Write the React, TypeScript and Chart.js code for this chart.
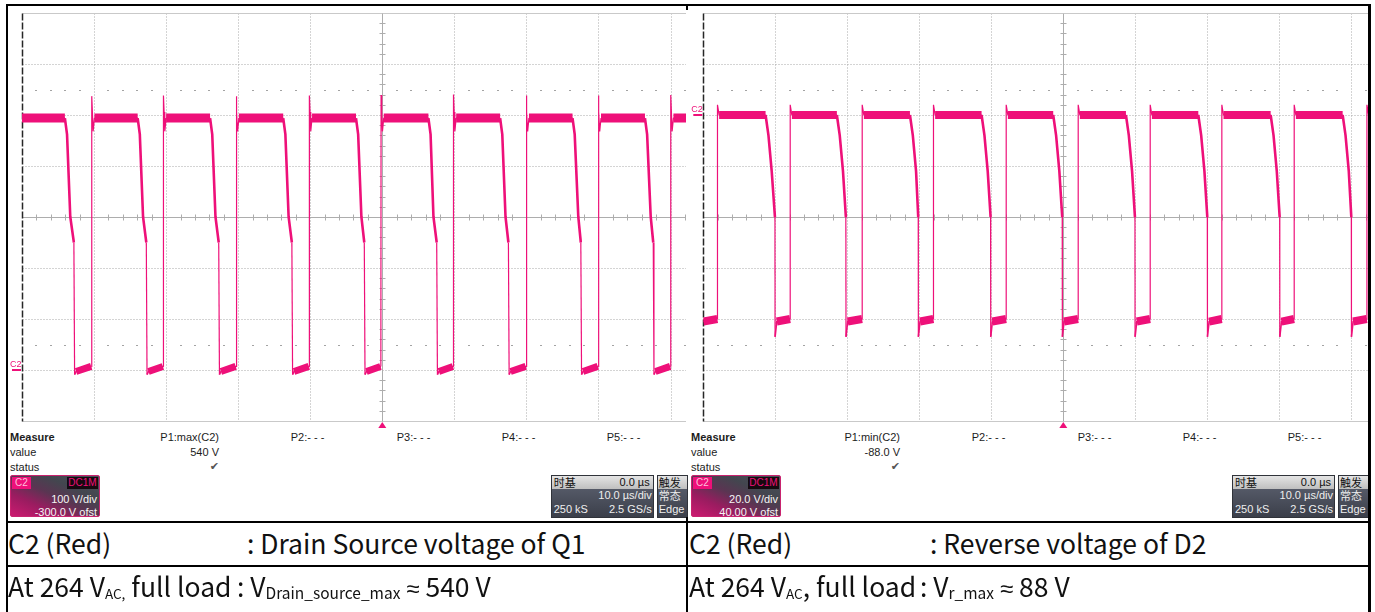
import React, { useEffect, useRef } from "react";
import { Chart, registerables } from "chart.js";

Chart.register(...registerables);

const PINK = "#ee1079";
const SANS = '"Liberation Sans", Arial, sans-serif';
const CJK = '"Noto Sans CJK SC", "Noto Sans", sans-serif';

// ===================== data =====================
// Horizontal: 10.0 µs/div, trigger at 0 µs (both screens)
const TIME_GRID_US = [-50, -40, -30, -20, -10, 0, 10, 20, 30, 40, 50];

// ---- Left screen: C2 = drain-source voltage of Q1 (100 V/div, -300.0 V ofst)
const L_VOLT_GRID = [-100, 0, 100, 200, 300, 400, 500, 600, 700];
const L_DOT_ROWS_V = [550, 50];
const L_RISE_US = [-40.35, -30.4, -20.3, -10.15, -0.2, 9.85, 19.95, 29.95, 40.0];
const L_FALL_US = [-44.05, -33.95, -23.9, -13.75, -3.65, 6.4, 16.35, 26.4, 36.45];
const L_MID_US = [-43.3, -33.2, -23.15, -13.0, -2.9, 7.1, 17.1, 27.2, 37.25];
const L_DROP_US = [-42.7, -32.65, -22.6, -12.45, -2.4, 7.65, 17.6, 27.65, 37.7];
const L_PEAK_V = [537, 538, 537, 538, 539, 540, 538, 538, 539];
const L_HIGH_V = 494;
const L_MID_V = 300;
const L_KNEE_DT = [0.3];
const L_KNEE_V = [462];
const L_TAIL_DT = 0.1;
const L_TAIL_V = 250;
const L_UNDERSHOOT_V = -9;
const L_LOW_START_V = -3;
const L_LOW_END_V = 7;
const L_RING_DT = [0.03, 0.12, 0.22, 0.4];
const L_RING_V = [506, 468];

// ---- Right screen: C2 = reverse voltage of D2 (20.0 V/div, 40.00 V ofst)
const R_VOLT_GRID = [-120, -100, -80, -60, -40, -20, 0, 20, 40];
const R_DOT_ROWS_V = [10, -90];
const R_RISE_US = [-48.05, -37.95, -27.95, -18.05, -7.95, 2.05, 12.05, 22.0, 32.05, 42.15];
const R_FALL_US = [-41.35, -31.45, -21.3, -11.35, -1.4, 8.7, 18.75, 28.8, 38.8];
const R_DROP_US = [-40.05, -30.2, -20.15, -10.1, -0.15, 9.95, 20.0, 30.05, 40.0];
const R_HIGH_V = 0;
const R_OVERSHOOT_V = 4;
const R_LOW_V = -81;
const R_LOW_END_V = -80;
const R_MIN_V = -87;
const R_MID_V = -40;
const R_KNEE_DT = [0.4, 0.85];
const R_KNEE_V = [-8, -22];

// ===================== trace construction =====================
type P = { x: number; y: number | null };

function buildLeft() {
  const pts: P[] = [];
  const kinds: string[] = [];
  const add = (x: number, y: number, k: string) => {
    pts.push({ x, y });
    kinds.push(k);
  };
  const high: P[] = [{ x: -50, y: L_HIGH_V }];
  const low: P[] = [];
  add(-50, L_HIGH_V, "flat");
  for (let i = 0; i < L_FALL_US.length; i++) {
    const f = L_FALL_US[i];
    const d = L_DROP_US[i];
    const r = L_RISE_US[i];
    high.push({ x: f, y: L_HIGH_V }, { x: f, y: null });
    add(f, L_HIGH_V, "slope");
    add(f + L_KNEE_DT[0], L_KNEE_V[0], "slope");
    add(L_MID_US[i], L_MID_V, "slope");
    add(d - L_TAIL_DT, L_TAIL_V, "edge");
    add(d, L_UNDERSHOOT_V, "flat");
    add(d + 0.2, L_LOW_START_V, "flat");
    low.push({ x: d + 0.2, y: L_LOW_START_V }, { x: r - 0.05, y: L_LOW_END_V }, { x: r, y: null });
    add(r, L_LOW_END_V, "edge");
    add(r + L_RING_DT[0], L_PEAK_V[i], "edge");
    add(r + L_RING_DT[1], L_RING_V[0], "edge");
    add(r + L_RING_DT[2], L_RING_V[1], "edge");
    add(r + L_RING_DT[3], L_HIGH_V, "flat");
    high.push({ x: r + L_RING_DT[3], y: L_HIGH_V });
  }
  add(50, L_HIGH_V, "flat");
  high.push({ x: 50, y: L_HIGH_V });
  return { pts, kinds, high, low, highW: 9, lowW: 7 };
}

function buildRight() {
  const pts: P[] = [];
  const kinds: string[] = [];
  const add = (x: number, y: number, k: string) => {
    pts.push({ x, y });
    kinds.push(k);
  };
  const high: P[] = [];
  const low: P[] = [{ x: -50, y: R_LOW_V }];
  add(-50, R_LOW_V, "flat");
  for (let i = 0; i < R_RISE_US.length; i++) {
    const r = R_RISE_US[i];
    low.push({ x: r, y: R_LOW_END_V }, { x: r, y: null });
    add(r, R_LOW_END_V, "edge");
    add(r + 0.02, R_OVERSHOOT_V, "edge");
    add(r + 0.25, R_HIGH_V, "flat");
    high.push({ x: r + 0.25, y: R_HIGH_V });
    if (i < R_FALL_US.length) {
      const f = R_FALL_US[i];
      const d = R_DROP_US[i];
      high.push({ x: f, y: R_HIGH_V }, { x: f, y: null });
      add(f, R_HIGH_V, "slope");
      add(f + R_KNEE_DT[0], R_KNEE_V[0], "slope");
      add(f + R_KNEE_DT[1], R_KNEE_V[1], "slope");
      add(d, R_MID_V, "edge");
      add(d + 0.02, R_MIN_V, "flat");
      add(d + 0.25, R_LOW_V, "flat");
      low.push({ x: d + 0.25, y: R_LOW_V });
    } else {
      add(50, R_HIGH_V, "flat");
      high.push({ x: 50, y: R_HIGH_V });
    }
  }
  return { pts, kinds, high, low, highW: 8, lowW: 8 };
}

// ===================== chart component =====================
type ScopeCfg = {
  boxLeft: number;
  boxWidth: number;
  gridLeft: number;
  gridWidth: number;
  vGrid: number[];
  center: number;
  dotRows: number[];
  build: () => ReturnType<typeof buildLeft>;
};

const BOX_TOP = 6;
const BOX_H = 424;
const CANVAS_W = 760;
const GRID_TOP = 13;
const GRID_H = 408;

function gridPlugin(cfg: ScopeCfg) {
  return {
    id: "scopeGrid",
    beforeDatasetsDraw(chart: any) {
      const { ctx } = chart;
      const xs = chart.scales.x;
      const ys = chart.scales.y;
      const X = (t: number) => Math.round(xs.getPixelForValue(t)) + 0.5;
      const Y = (v: number) => Math.round(ys.getPixelForValue(v)) + 0.5;
      const seg = (x1: number, y1: number, x2: number, y2: number) => {
        ctx.beginPath();
        ctx.moveTo(x1, y1);
        ctx.lineTo(x2, y2);
        ctx.stroke();
      };
      const vg = cfg.vGrid;
      const lastT = TIME_GRID_US.length - 1;
      const lastV = vg.length - 1;
      const top = Y(vg[lastV]);
      const bottom = Y(vg[0]);
      const left = X(TIME_GRID_US[0]);
      const right = X(TIME_GRID_US[lastT]);
      const yc = Y(cfg.center);
      const x0 = X(0);
      ctx.save();
      ctx.lineWidth = 1;
      ctx.strokeStyle = "#a9a9a9";
      ctx.setLineDash([1, 2]);
      TIME_GRID_US.forEach((t, i) => {
        if (i > 0 && i < lastT && t !== 0) seg(X(t), top, X(t), bottom);
      });
      vg.forEach((v, i) => {
        if (i > 0 && i < lastV && v !== cfg.center) seg(left, Y(v), right, Y(v));
      });
      ctx.setLineDash([]);
      ctx.strokeStyle = "#c9c9c9";
      seg(left, top, right, top);
      seg(left, bottom, right, bottom);
      ctx.strokeStyle = "#adadad";
      seg(x0, top, x0, bottom);
      seg(left, yc, right, yc);
      // minor ticks, 5 per division
      const tDiv = TIME_GRID_US[1] - TIME_GRID_US[0];
      const vDiv = vg[1] - vg[0];
      for (let i = 1; i < lastT * 5; i++) {
        if (i % 5 === 0) continue;
        const tx = X(TIME_GRID_US[0] + (i * tDiv) / 5);
        seg(tx, yc - 3, tx, yc + 3);
      }
      for (let i = 1; i < lastV * 5; i++) {
        if (i % 5 === 0) continue;
        const vy = Y(vg[0] + (i * vDiv) / 5);
        seg(x0 - 3, vy, x0 + 3, vy);
      }
      ctx.fillStyle = "#a3a3a3";
      cfg.dotRows.forEach((v) => {
        const vy = Math.round(ys.getPixelForValue(v));
        for (let i = 1; i < lastT * 5; i++) {
          if (i % 5 === 0) continue;
          const tx = Math.round(xs.getPixelForValue(TIME_GRID_US[0] + (i * tDiv) / 5));
          ctx.fillRect(tx - 1, vy, 2, 1);
        }
      });
      ctx.strokeStyle = "#262626";
      ctx.lineWidth = 1.5;
      ctx.setLineDash([7, 2]);
      seg(left, top, left, bottom);
      ctx.restore();
    },
    afterDatasetsDraw(chart: any) {
      const { ctx, chartArea: a } = chart;
      const xs = chart.scales.x;
      const ys = chart.scales.y;
      const y0 = Math.round(ys.getPixelForValue(0));
      const x0 = xs.getPixelForValue(0);
      ctx.save();
      ctx.fillStyle = PINK;
      ctx.fillRect(a.left - 10, y0 - 1, 9, 2);
      ctx.font = `9px ${SANS}`;
      ctx.textBaseline = "alphabetic";
      ctx.fillText("C2", a.left - 12, y0 - 3);
      ctx.beginPath();
      ctx.moveTo(x0, a.bottom + 1);
      ctx.lineTo(x0 - 4, a.bottom + 7);
      ctx.lineTo(x0 + 4, a.bottom + 7);
      ctx.closePath();
      ctx.fill();
      ctx.restore();
    },
  };
}

function Scope({ cfg }: { cfg: ScopeCfg }) {
  const ref = useRef<HTMLCanvasElement>(null);
  useEffect(() => {
    const tr = cfg.build();
    const padLeft = cfg.gridLeft - cfg.boxLeft;
    const padTop = GRID_TOP - BOX_TOP;
    const chart = new Chart(ref.current as HTMLCanvasElement, {
      type: "line",
      data: {
        datasets: [
          {
            data: tr.high as any,
            borderColor: PINK,
            borderWidth: tr.highW,
            borderCapStyle: "butt",
            pointRadius: 0,
            spanGaps: false,
            tension: 0,
          },
          {
            data: tr.low as any,
            borderColor: PINK,
            borderWidth: tr.lowW,
            borderCapStyle: "butt",
            pointRadius: 0,
            spanGaps: false,
            tension: 0,
          },
          {
            data: tr.pts as any,
            borderColor: PINK,
            borderWidth: 1.3,
            pointRadius: 0,
            tension: 0,
            segment: {
              borderWidth: (c: any) =>
                tr.kinds[c.p0DataIndex] === "slope" ? 2.6 : tr.kinds[c.p0DataIndex] === "edge" ? 1.2 : 1.6,
            },
          },
        ],
      },
      options: {
        animation: false,
        responsive: false,
        maintainAspectRatio: false,
        events: [],
        layout: {
          padding: {
            left: padLeft,
            top: padTop,
            right: CANVAS_W - padLeft - cfg.gridWidth,
            bottom: BOX_H - padTop - GRID_H,
          },
        },
        scales: {
          x: { type: "linear", min: TIME_GRID_US[0], max: TIME_GRID_US[TIME_GRID_US.length - 1], display: false },
          y: { type: "linear", min: cfg.vGrid[0], max: cfg.vGrid[cfg.vGrid.length - 1], display: false },
        },
        plugins: { legend: { display: false }, tooltip: { enabled: false } },
      },
      plugins: [gridPlugin(cfg)],
    } as any);
    return () => chart.destroy();
  }, [cfg]);
  return (
    <div
      style={{
        position: "absolute",
        left: cfg.boxLeft,
        top: BOX_TOP,
        width: cfg.boxWidth,
        height: BOX_H,
        overflow: "hidden",
      }}
    >
      <canvas ref={ref} width={CANVAS_W} height={BOX_H} style={{ display: "block" }} />
    </div>
  );
}

const LEFT_CFG: ScopeCfg = {
  boxLeft: 8,
  boxWidth: 678,
  gridLeft: 22,
  gridWidth: 720.6,
  vGrid: L_VOLT_GRID,
  center: 300,
  dotRows: L_DOT_ROWS_V,
  build: buildLeft,
};
const RIGHT_CFG: ScopeCfg = {
  boxLeft: 687,
  boxWidth: 681,
  gridLeft: 703.3,
  gridWidth: 720,
  vGrid: R_VOLT_GRID,
  center: -40,
  dotRows: R_DOT_ROWS_V,
  build: buildRight as any,
};

// ===================== text helpers =====================
function T({
  x,
  y,
  size = 11,
  right = false,
  bold = false,
  color = "#1c1c1c",
  family = SANS,
  children,
}: any) {
  const lh = Math.round(size * 1.2);
  return (
    <div
      style={{
        position: "absolute",
        top: y - lh / 2,
        ...(right ? { right: 1375 - x } : { left: x }),
        fontSize: size,
        lineHeight: `${lh}px`,
        fontWeight: bold ? 700 : 400,
        color,
        fontFamily: family,
        whiteSpace: "nowrap",
      }}
    >
      {children}
    </div>
  );
}

function Measure({ dx, fn, value }: { dx: number; fn: string; value: string }) {
  return (
    <>
      <T x={10 + dx} y={437} bold>
        Measure
      </T>
      <T x={10 + dx} y={452}>value</T>
      <T x={10 + dx} y={467}>status</T>
      <T x={219 + dx} y={437} right>
        {fn}
      </T>
      <T x={219 + dx} y={452} right>
        {value}
      </T>
      <T x={219 + dx} y={466} right color="#555" family='"DejaVu Sans", sans-serif' size={11}>
        ✔
      </T>
      <T x={290.7 + dx} y={437}>P2:- - -</T>
      <T x={396.7 + dx} y={437}>P3:- - -</T>
      <T x={501.7 + dx} y={437}>P4:- - -</T>
      <T x={606.7 + dx} y={437}>P5:- - -</T>
    </>
  );
}

function Badge({ x, scale, ofst }: { x: number; scale: string; ofst: string }) {
  const txt: React.CSSProperties = {
    position: "absolute",
    right: 2,
    fontSize: 11,
    lineHeight: "12px",
    color: "#f5f5f5",
    fontFamily: SANS,
    whiteSpace: "nowrap",
  };
  return (
    <div
      style={{
        position: "absolute",
        left: x,
        top: 475,
        width: 90,
        height: 42,
        boxSizing: "border-box",
        border: "1px solid #c8236f",
        borderRadius: 2,
        overflow: "hidden",
        background:
          "linear-gradient(to top right, #cc1a70 0%, #9a1c60 28%, #5a3552 50%, #43464f 70%, #4d5059 100%)",
      }}
    >
      <div
        style={{
          position: "absolute",
          left: 1,
          top: 1,
          width: 19,
          height: 12,
          background: PINK,
          color: "#ffc0dd",
          fontSize: 10,
          lineHeight: "12px",
          fontFamily: SANS,
          textAlign: "center",
        }}
      >
        C2
      </div>
      <div
        style={{
          position: "absolute",
          right: 1,
          top: 1,
          width: 31,
          height: 12,
          background: "#150a10",
          color: PINK,
          fontSize: 10,
          lineHeight: "12px",
          fontFamily: SANS,
          textAlign: "center",
        }}
      >
        DC1M
      </div>
      <div style={{ ...txt, top: 17 }}>{scale}</div>
      <div style={{ ...txt, top: 30 }}>{ofst}</div>
    </div>
  );
}

function TimeBase({ x }: { x: number }) {
  const dark = "linear-gradient(#606574, #3b3f4a)";
  const light = "linear-gradient(#e4e4e4, #bfbfbf)";
  const cell: React.CSSProperties = {
    position: "absolute",
    fontSize: 11,
    lineHeight: "13px",
    fontFamily: SANS,
    whiteSpace: "nowrap",
  };
  return (
    <>
      <div
        style={{
          position: "absolute",
          left: x,
          top: 475,
          width: 103,
          height: 43,
          boxSizing: "border-box",
          border: "1px solid #30333a",
          background: dark,
        }}
      >
        <div style={{ position: "absolute", left: 0, top: 0, right: 0, height: 13, background: light }} />
        <div style={{ ...cell, left: 2, top: 0, color: "#111", fontFamily: CJK }}>时基</div>
        <div style={{ ...cell, right: 3, top: 0, color: "#111" }}>0.0 µs</div>
        <div style={{ ...cell, right: 1, top: 13, color: "#eee" }}>10.0 µs/div</div>
        <div style={{ ...cell, left: 2, top: 27, color: "#eee" }}>250 kS</div>
        <div style={{ ...cell, right: 1, top: 27, color: "#eee" }}>2.5 GS/s</div>
      </div>
      <div
        style={{
          position: "absolute",
          left: x + 106,
          top: 475,
          width: 31,
          height: 43,
          boxSizing: "border-box",
          border: "1px solid #30333a",
          background: dark,
        }}
      >
        <div style={{ position: "absolute", left: 0, top: 0, right: 0, height: 13, background: light }} />
        <div style={{ ...cell, left: 1, top: 0, color: "#111", fontFamily: CJK }}>触发</div>
        <div style={{ ...cell, left: 1, top: 13, color: "#eee", fontFamily: CJK }}>常态</div>
        <div style={{ ...cell, left: 1, top: 27, color: "#eee" }}>Edge</div>
      </div>
    </>
  );
}

const SUB: React.CSSProperties = { fontSize: 13.5, position: "relative", top: 2 };
const SUB_V: React.CSSProperties = { fontSize: 15.5, position: "relative", top: 2 };
const APPROX: React.CSSProperties = { fontFamily: '"Noto Sans", sans-serif', fontSize: 24 };
const ROW_SIZE = 26.5;

function Row({ x, baseline, children }: any) {
  return (
    <div
      style={{
        position: "absolute",
        left: x,
        top: baseline - ROW_SIZE * 0.935,
        fontSize: ROW_SIZE,
        lineHeight: `${ROW_SIZE}px`,
        fontFamily: CJK,
        color: "#111",
        whiteSpace: "nowrap",
      }}
    >
      {children}
    </div>
  );
}

const line = (l: number, t: number, w: number, h: number) => (
  <div style={{ position: "absolute", left: l, top: t, width: w, height: h, background: "#000" }} />
);

export default function App() {
  return (
    <div
      style={{
        position: "absolute",
        left: 0,
        top: 0,
        width: 1375,
        height: 612,
        background: "#fff",
        overflow: "hidden",
        fontFamily: SANS,
      }}
    >
      <Scope cfg={LEFT_CFG} />
      <Scope cfg={RIGHT_CFG} />

      <Measure dx={0} fn="P1:max(C2)" value="540 V" />
      <Measure dx={681} fn="P1:min(C2)" value="-88.0 V" />
      <Badge x={10} scale="100 V/div" ofst="-300.0 V ofst" />
      <Badge x={691} scale="20.0 V/div" ofst="40.00 V ofst" />
      <TimeBase x={550.7} />
      <TimeBase x={1232} />

      {/* table frame */}
      {line(6, 3.5, 1365, 2)}
      {line(6, 3.5, 2, 609)}
      {line(1368, 3.5, 3, 609)}
      {line(686, 3.5, 2, 6)}
      {line(686, 517, 2, 95)}
      {line(6, 521, 1365, 2)}
      {line(6, 565, 1365, 2)}

      <Row x={8} baseline={555}>C2 (Red)</Row>
      <Row x={247} baseline={555}>: Drain Source voltage of Q1</Row>
      <Row x={8} baseline={598}>
        At 264 V<span style={SUB}>AC,</span> full load
      </Row>
      <Row x={237} baseline={598}>
        : V<span style={SUB_V}>Drain_source_max</span> <span style={APPROX}>≈</span> 540 V
      </Row>
      <Row x={689} baseline={555}>C2 (Red)</Row>
      <Row x={930} baseline={555}>: Reverse voltage of D2</Row>
      <Row x={689} baseline={598}>
        At 264 V<span style={SUB}>AC</span>, full load
      </Row>
      <Row x={920} baseline={598}>
        : V<span style={SUB_V}>r_max</span> <span style={APPROX}>≈</span> 88 V
      </Row>
    </div>
  );
}
